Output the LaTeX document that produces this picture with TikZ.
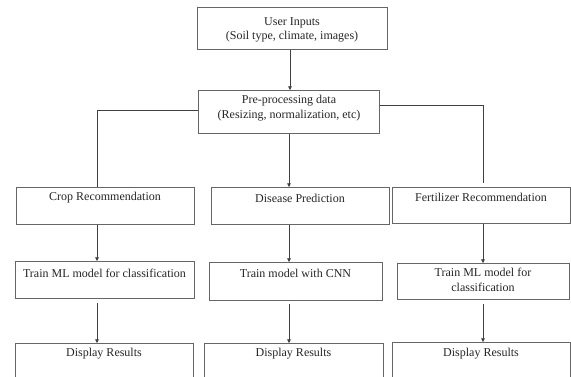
\documentclass[tikz,border=0pt]{standalone}
\usepackage{fontspec}
\setmainfont{Liberation Serif}
\usetikzlibrary{arrows.meta,calc}
\begin{document}
\begin{tikzpicture}[x=1pt,y=-1pt,line width=0.6pt,
  box/.style={draw=black!60,anchor=north west,inner sep=0pt,minimum width=#1},
  txt/.style={font=\fontsize{12}{14.5}\selectfont,align=center,inner sep=0pt,text=black!85},
  conn/.style={draw=black!75},
  arr/.style={draw=black!75,-{Triangle[width=3.6pt,length=3.6pt]}}]
\clip (0,0) rectangle (571,377);
\fill[white] (0,0) rectangle (571,377);
% boxes
\node[box=190pt,minimum height=42pt] (user) at (197,7) {};
\node[box=181pt,minimum height=43pt] (pre) at (198,90) {};
\node[box=178pt,minimum height=37pt] (crop) at (16,187) {};
\node[box=178pt,minimum height=37pt] (dis) at (211,187) {};
\node[box=178pt,minimum height=36pt] (fert) at (392,187) {};
\node[box=179pt,minimum height=37pt] (tr1) at (15,261) {};
\node[box=173pt,minimum height=38pt] (tr2) at (209,262) {};
\node[box=172pt,minimum height=36pt] (tr3) at (397,263) {};
\node[box=178pt,minimum height=50pt] (d1) at (15,343) {};
\node[box=179pt,minimum height=50pt] (d2) at (204,343) {};
\node[box=178pt,minimum height=50pt] (d3) at (392,342) {};
% texts
\node[txt] (tuser) at (292,30) {User Inputs\\(Soil type, climate, images)};
\node[txt] (tpre) at (289,108) {Pre-processing data\\(Resizing, normalization, etc)};
\node[txt] (tcrop) at (105,198) {Crop Recommendation};
\node[txt] (tdis) at (300,198) {Disease Prediction};
\node[txt] (tfert) at (481,197) {Fertilizer Recommendation};
\node[txt] (ttr1) at (104.5,273) {Train ML model for classification};
\node[txt] (ttr2) at (295.5,273) {Train model with CNN};
\node[txt] (ttr3) at (483,280) {Train ML model for\\classification};
\node[txt] (td1) at (104,354) {Display Results};
\node[txt] (td2) at (293.5,354) {Display Results};
\node[txt] (td3) at (481,354) {Display Results};
% column coordinates
\coordinate (cA) at (97,0);
\coordinate (cB) at (289,0);
\coordinate (cC) at (483,0);
\coordinate (cU) at (290,0);
\coordinate (lrow) at (0,110);
\coordinate (rrow) at (0,105);
\coordinate (rend) at (0,183);
% connectors
\draw[arr] (user.south -| cU) -- (pre.north -| cU);
\draw[conn] (pre.west |- lrow) -| (crop.north -| cA);
\draw[conn] (pre.east |- rrow) -| (cC |- rend);
\draw[arr] (pre.south -| cB) -- (dis.north -| cB);
\draw[arr] (crop.south -| cA) -- (tr1.north -| cA);
\draw[arr] (dis.south -| cB) -- (tr2.north -| cB);
\draw[arr] (fert.south -| cC) -- (tr3.north -| cC);
\draw[arr,shorten <=4pt] (tr1.south -| cA) -- (d1.north -| cA);
\draw[arr,shorten <=3pt] (tr2.south -| cB) -- (d2.north -| cB);
\draw[arr,shorten <=4pt] (tr3.south -| cC) -- (d3.north -| cC);
\end{tikzpicture}
\end{document}
